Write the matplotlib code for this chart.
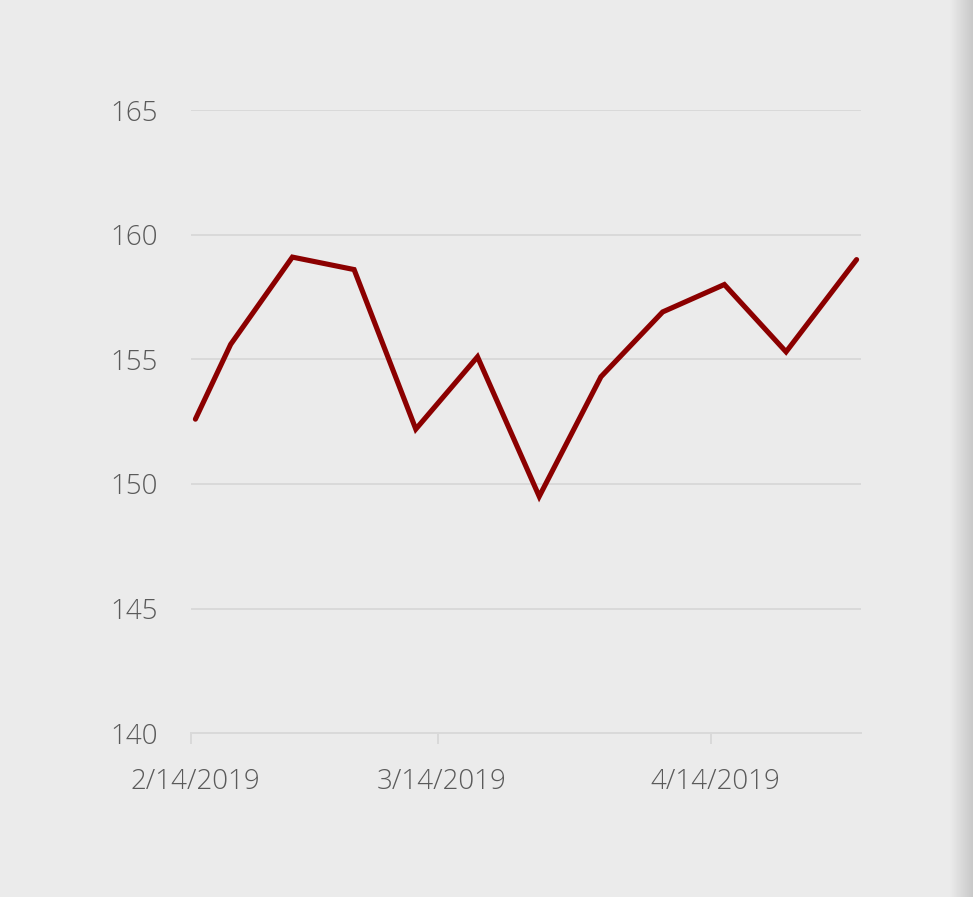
import matplotlib
matplotlib.use("Agg")
import matplotlib.pyplot as plt
import matplotlib.transforms as mtransforms
import numpy as np
import pandas as pd
from matplotlib.colors import LinearSegmentedColormap

dates = ["2019-02-14 12:00", "2019-02-18 12:00", "2019-02-25 12:00", "2019-03-04 12:00",
         "2019-03-11 12:00", "2019-03-18 12:00", "2019-03-25 12:00", "2019-04-01 12:00",
         "2019-04-08 12:00", "2019-04-15 12:00", "2019-04-22 12:00", "2019-04-30 12:00"]
values = [152.6, 155.6, 159.1, 158.6, 152.2, 155.1, 149.5, 154.3, 156.9, 158.0, 155.3, 159.0]
y_ticks = [140, 145, 150, 155, 160, 165]
x_tick_dates = ["2019-02-14", "2019-03-14", "2019-04-14"]
x_tick_labels = ["2/14/2019", "3/14/2019", "4/14/2019"]

bg = "#ebebeb"
fig = plt.figure(figsize=(9.73, 8.97), dpi=100, facecolor=bg)

# right-edge shadow
shade = fig.add_axes([950/973, 0, 23/973, 1])
grad = np.linspace(0, 1, 64)[None, :]
cm = LinearSegmentedColormap.from_list("s", [bg, "#c9c9c9"])
shade.imshow(grad, aspect="auto", cmap=cm, extent=[0, 1, 0, 1])
shade.axis("off")

ax = fig.add_axes([191/973, 1-733.3/897, (861-191)/973, (733.3-110)/897])
ax.set_facecolor(bg)
x = pd.to_datetime(dates)
ax.plot(x, values, color="#8b0000", lw=3.7, solid_joinstyle="miter", solid_capstyle="round", zorder=3)

ax.set_ylim(140, 165)
ax.set_xlim(pd.Timestamp("2019-02-14"), pd.Timestamp("2019-05-01"))
ax.set_yticks(y_ticks)
ax.set_xticks(pd.to_datetime(x_tick_dates))
ax.set_xticklabels(x_tick_labels)

fam = ["Open Sans", "DejaVu Sans"]
for lbl in ax.get_yticklabels() + ax.get_xticklabels():
    lbl.set_fontfamily(fam)
    lbl.set_fontweight("light")
    lbl.set_fontsize(20)
    lbl.set_color("#5a5a5a")

ax.grid(axis="y", color="#d9d9d9", lw=1.4)
ax.set_axisbelow(True)
for s in ["top", "right", "left"]:
    ax.spines[s].set_visible(False)
ax.spines["bottom"].set_color("#d9d9d9")
ax.spines["bottom"].set_linewidth(1.4)
ax.tick_params(axis="y", length=0, pad=24)
ax.tick_params(axis="x", length=8, width=1.4, color="#d9d9d9", pad=17)

fig.canvas.draw()
offset = mtransforms.ScaledTranslation(4/100, 0, fig.dpi_scale_trans)
for t in ax.xaxis.get_major_ticks():
    t.label1.set_transform(t.label1.get_transform() + offset)

fig.savefig("out.png", dpi=100, facecolor=bg)
